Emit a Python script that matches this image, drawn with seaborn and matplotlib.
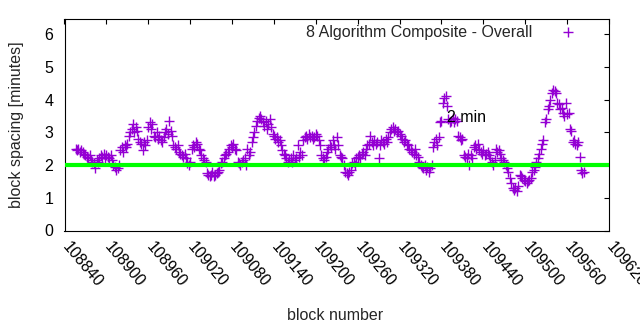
import numpy as np
import pandas as pd
import matplotlib
matplotlib.use("Agg")
import matplotlib.pyplot as plt
import matplotlib.transforms as mtransforms
import seaborn as sns

# ---- data ----
first_block = 108856
block_step = 2
spacing = [
    2.5, 2.45, 2.5, 2.4, 2.45, 2.4, 2.35,
    2.3, 2.25, 2.2, 2.3, 2.15,
    2.1, 2.05, 1.9, 2.15, 2.1,
    2.2, 2.3, 2.25, 2.35, 2.2, 2.3, 2.25, 2.2, 2.3, 2.15,
    2.0, 1.95, 1.85, 1.9, 2.0,
    2.45, 2.55, 2.4, 2.6, 2.55, 2.65,
    2.9, 3.0, 3.1, 3.25, 3.0, 3.15, 3.05,
    2.8, 2.7, 2.65, 2.45, 2.7, 2.6, 2.75,
    3.15, 3.3, 3.1, 3.25,
    2.9, 2.85, 3.0, 2.8, 2.9, 2.75,
    2.7, 2.85,
    3.0, 3.1, 2.95, 3.35, 3.05, 2.9,
    2.6, 2.55, 2.5, 2.6,
    2.4, 2.35, 2.3, 2.25, 2.35, 2.2,
    2.05, 2.0, 2.1,
    2.5, 2.6, 2.55, 2.7, 2.65, 2.5, 2.45,
    2.3, 2.2, 2.15, 2.1,
    1.75, 1.7, 1.65, 1.7, 1.8, 1.65, 1.7, 1.75, 1.8, 1.85,
    2.05, 2.1, 2.2, 2.3, 2.35, 2.4,
    2.5, 2.6, 2.55, 2.65, 2.5, 2.45,
    2.1, 2.05, 2.0, 2.1, 2.15,
    2.2, 2.0, 2.5, 2.3, 2.4,
    2.7, 2.85, 3.0, 3.2, 3.35,
    3.45, 3.5, 3.4, 3.3,
    3.2, 3.35, 3.1, 3.25, 3.4, 3.15,
    2.95, 2.9, 2.8, 2.85, 2.7, 2.75, 2.6,
    2.45, 2.35, 2.3, 2.2,
    2.1, 2.15, 2.2, 2.1, 2.3, 2.15, 2.2, 2.6, 2.25, 2.4, 2.3,
    2.75, 2.85, 2.9, 2.8, 2.95, 2.85, 2.9, 2.8, 2.85, 2.95, 2.9, 2.75, 2.6,
    2.3, 2.2, 2.15, 2.25, 2.4,
    2.5, 2.6, 2.55, 2.75, 2.6, 2.5, 2.85, 2.6,
    2.3, 2.25, 2.2, 2.0,
    1.8, 1.75, 1.7, 1.8, 1.85,
    2.05, 2.1, 2.0, 2.2,
    2.25, 2.3, 2.2, 2.35, 2.4, 2.3, 2.5,
    2.6, 2.65, 2.9, 2.7, 2.6, 2.75, 2.65, 2.7, 2.2, 2.6, 2.75, 2.7, 2.65, 2.8, 2.7, 2.85,
    3.0, 3.1, 3.15, 3.05, 3.1, 3.0, 3.05, 2.95, 2.9,
    2.8, 2.7, 2.75, 2.65, 2.6,
    2.5, 2.45, 2.4, 2.35, 2.5, 2.3, 2.25, 2.1,
    2.0, 1.95, 1.9, 2.0, 1.85, 1.95, 1.8, 1.9, 2.0,
    2.55, 2.7, 2.8, 2.6, 2.85,
    3.3, 3.35, 3.9, 4.05, 4.1,
    3.8, 3.4, 3.3, 3.35, 3.45, 3.3, 3.4, 3.35,
    2.9, 2.85, 2.75, 2.8,
    2.3, 2.25, 2.2, 2.35, 2.0, 2.3, 2.2,
    2.55, 2.6, 2.5, 2.65, 2.45,
    2.4, 2.35, 2.45, 2.3, 2.35, 2.4, 2.3,
    2.2, 2.1, 2.0, 2.15,
    2.5, 2.4, 2.45, 2.35,
    2.2, 2.15, 2.1, 2.0, 1.9,
    1.8, 1.6, 1.45, 1.3,
    1.25, 1.3, 1.2, 1.35,
    1.7, 1.65, 1.6, 1.55,
    1.5, 1.45, 1.5, 1.55, 1.6,
    1.8, 1.85, 1.95, 2.1, 2.2,
    2.35, 2.5, 2.65, 2.75,
    3.3, 3.4, 3.7,
    3.8, 4.0, 4.2, 4.3, 4.25, 4.2, 3.9,
    3.85, 3.7, 3.75, 3.6, 3.5, 3.9, 3.55, 3.6,
    3.1, 3.05,
    2.7, 2.75, 2.65, 2.6, 2.7,
    2.25, 1.85, 1.75, 1.8,
]
blocks = np.arange(len(spacing)) * block_step + first_block

series_label = "8 Algorithm Composite - Overall"
target_minutes = 2
target_label = "2 min"
target_label_pos = (109388, 3.45)
x_ticks = list(range(108840, 109621, 60))
y_ticks = [0, 1, 2, 3, 4, 5, 6]
x_limits = (108840, 109620)
y_limits = (0, 6.45)

df = pd.DataFrame({"block": blocks, "spacing": spacing})

FS = 11.5

# ---- style ----
sns.set_theme(style="white")
plt.rcParams["font.family"] = ["Liberation Sans", "DejaVu Sans"]
plt.rcParams["font.size"] = FS

fig = plt.figure(figsize=(6.4, 3.3), dpi=100)
ax = fig.add_axes([64.5 / 640, 1 - 230.5 / 330, (609 - 64.5) / 640, (230.5 - 19.3) / 330])

sns.scatterplot(data=df, x="block", y="spacing", ax=ax, marker="+",
                color="#9400D3", s=50, linewidth=1.0, label=series_label,
                zorder=2)
ax.axhline(target_minutes, color="#00FF00", lw=3.0, zorder=3)
ax.text(target_label_pos[0], target_label_pos[1], target_label,
        ha="left", va="center", fontsize=FS, color="black", zorder=4)

ax.set_xlim(*x_limits)
ax.set_ylim(*y_limits)
ax.set_xticks(x_ticks)
ax.set_yticks(y_ticks)
ax.set_xticklabels([str(t) for t in x_ticks])

for sp in ax.spines.values():
    sp.set_visible(True)
    sp.set_color("black")
    sp.set_linewidth(0.8)

ax.tick_params(axis="both", direction="in", length=3.5, width=0.8,
               colors="black", labelsize=FS, top=True, right=True,
               labeltop=False, labelright=False)
ax.tick_params(axis="y", pad=8)
ax.tick_params(axis="x", pad=10)

offset = mtransforms.ScaledTranslation(0.5 / 100, 0, fig.dpi_scale_trans)
for lbl in ax.get_xticklabels():
    lbl.set_rotation(-50)
    lbl.set_ha("left")
    lbl.set_va("center")
    lbl.set_rotation_mode("anchor")
    lbl.set_transform(lbl.get_transform() + offset)

ax.set_xlabel("block number", fontsize=FS, labelpad=0)
ax.set_ylabel("block spacing [minutes]", fontsize=FS, labelpad=0)
ax.xaxis.set_label_coords((335 - 64.5) / (609 - 64.5), -(315 - 230.5) / (230.5 - 19.3))
ax.yaxis.set_label_coords(-(64.5 - 16) / (609 - 64.5), 0.5)
ax.xaxis.label.set_va("center")
ax.yaxis.label.set_va("center")

leg = ax.legend(loc="upper right", markerfirst=False, frameon=False,
                bbox_to_anchor=(0.9743, 0.975), borderaxespad=0, borderpad=0,
                handlelength=3.4, handletextpad=0.5, fontsize=FS, scatterpoints=1)

fig.savefig("out.png", dpi=100)
